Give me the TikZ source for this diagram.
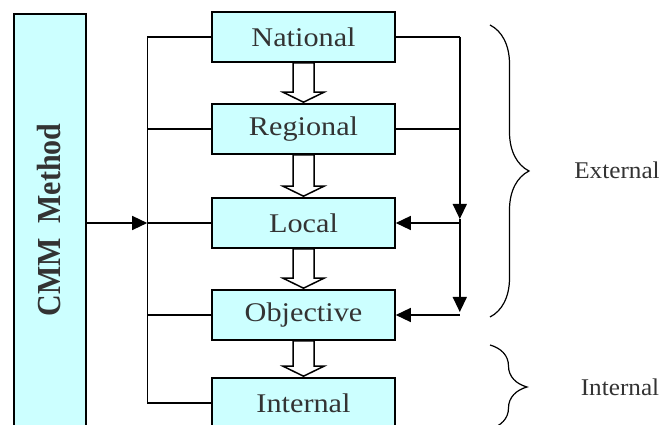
\documentclass[tikz,border=0pt]{standalone}
\usepackage{fontspec}
\setmainfont{Liberation Serif}
\usetikzlibrary{arrows.meta,decorations.pathreplacing,calc}
\definecolor{boxfill}{HTML}{CCFFFF}
\definecolor{txt}{HTML}{333333}
\newcommand{\sxx}[1]{\scalebox{1.12}[1]{#1}}
\newcommand{\hollowarrow}[2]{%
  \path let \p1=(#1.south), \p2=(#2.north) in
    [hollow] (\x1-10.5pt,\y1) -- (\x1-10.5pt,\y2+11pt) -- (\x1-20.5pt,\y2+11pt)
    -- (\x1,\y2+1pt) -- (\x1+20.5pt,\y2+11pt) -- (\x1+10.5pt,\y2+11pt)
    -- (\x1+10.5pt,\y1) -- cycle;}
\begin{document}
\begin{tikzpicture}[x=1pt,y=1pt,
  box/.style={draw=black, line width=1.6pt, fill=boxfill, minimum width=183pt,
    minimum height=50pt, inner sep=0pt, text=txt, font=\fontsize{27}{30}\selectfont},
  conn/.style={line width=1.4pt},
  tip/.style={-{Triangle[length=15pt,width=14pt]}},
  hollow/.style={draw=black, line width=1.5pt, fill=white},
  brc/.style={decorate, decoration={brace, amplitude=#1}, line width=1.2pt},
  lbl/.style={text=txt, font=\fontsize{24}{26}\selectfont}
]
\clip (0,0) rectangle (662,425);
\node[box, minimum width=72pt, minimum height=427pt, anchor=north west] (cmm) at (13,412) {};
\node[rotate=90, text=txt, font=\bfseries\fontsize{30}{32}\selectfont] (cmmt) at (49,205)
  {\scalebox{1}[1.12]{CMM\ \ Method}};

\node[box] (national)  at (303.5,388) {\sxx{National}};
\node[box] (regional)  at (303.5,296) {\sxx{Regional}};
\node[box] (local)     at (303.5,202) {\sxx{Local}};
\node[box] (objective) at (303.5,110) {\sxx{Objective}};
\node[box] (internal)  at (303.5,22)  {\sxx{Internal}};

\hollowarrow{national}{regional}
\hollowarrow{regional}{local}
\hollowarrow{local}{objective}
\hollowarrow{objective}{internal}

% left bus
\draw[conn] (national.west) -- ++(-64,0) coordinate (bt) |- (internal.west);
\draw[conn] (regional.west) -- ++(-64,0);
\draw[conn] (local.west) -- ++(-64,0) coordinate (bl);
\draw[conn] (objective.west) -- ++(-64,0);
\draw[conn,tip] (cmm.east |- bl) -- (bl);

% right feedback
\draw[conn] (national.east) -- ++(64,0) coordinate (rt);
\draw[conn] (regional.east) -- ++(64,0);
\coordinate (rl) at ($(local.east)+(64,0)$);
\coordinate (ro) at ($(objective.east)+(64,0)$);
\draw[conn,tip] (rt) -- ($(rl)+(0,4)$);
\draw[conn,tip] ($(rl)+(0,4)$) -- ($(ro)+(0,3)$);
\draw[conn,tip] (rl) -- (local.east);
\draw[conn,tip] (ro) -- (objective.east);

% braces
\draw[brc=39pt] (490,400) -- (490,108);
\node[lbl] (ext) at (617,255) {\scalebox{1.05}[1]{External}};
\draw[brc=37pt] (490,80) -- (490,-4);
\node[lbl] (intl) at (620,38) {\scalebox{1.05}[1]{Internal}};
\end{tikzpicture}
\end{document}
